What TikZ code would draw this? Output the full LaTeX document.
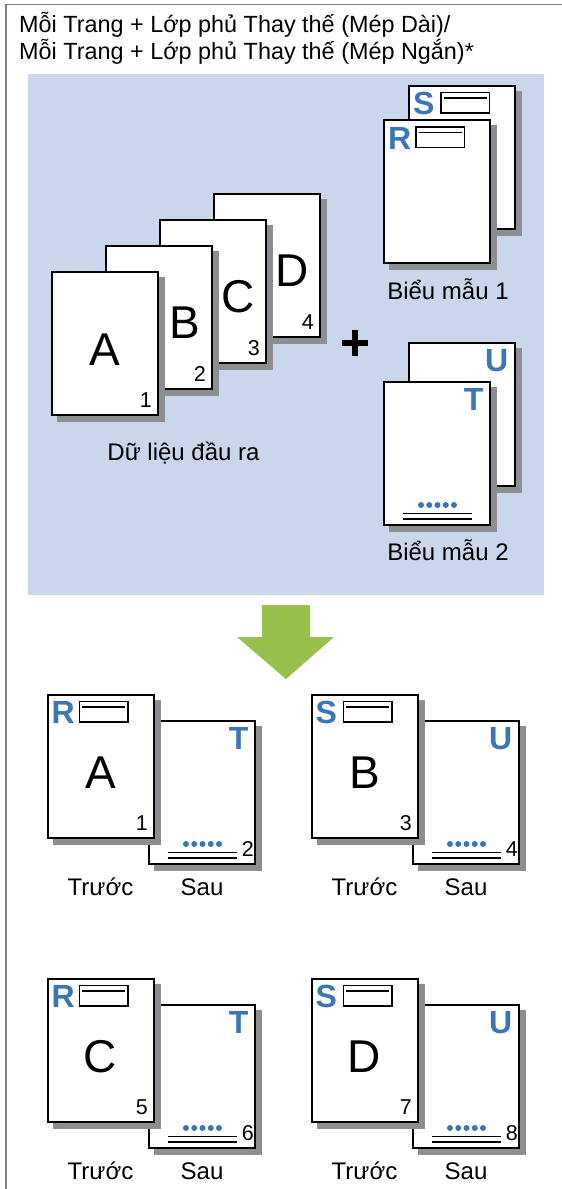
\documentclass[tikz,border=0pt]{standalone}
\usepackage{fontspec}
\setmainfont{Liberation Sans}
\usetikzlibrary{calc}
\definecolor{panelblue}{RGB}{201,214,236}
\definecolor{shadowgray}{RGB}{140,142,145}
\definecolor{arrowgreen}{RGB}{151,192,76}
\definecolor{letterblue}{RGB}{58,118,182}
\definecolor{framegray}{RGB}{130,130,130}
\tikzset{
  pagebox/.style={draw=black, fill=white, line width=2pt, minimum width=106pt, minimum height=143pt, inner sep=0pt, outer sep=0pt},
  bigletter/.style={font=\fontsize{46}{46}\selectfont, inner sep=0pt, anchor=base},
  pagenum/.style={font=\fontsize{21.5}{21.5}\selectfont, inner sep=0pt, anchor=base east},
  blueletter/.style={font=\fontsize{32}{32}\selectfont\bfseries, text=letterblue, inner sep=0pt},
  lbl/.style={font=\fontsize{24}{24}\selectfont, inner sep=0pt, anchor=base},
  titletext/.style={font=\fontsize{23.4}{23.4}\selectfont, inner sep=0pt, anchor=base west},
  formbox/.style={draw=black, line width=1.5pt},
}
\newcommand\pg[3]{%
  \fill[shadowgray] ({#2-48},{#3-66.5}) rectangle ({#2+60},{#3+78.5});
  \node[pagebox] (#1) at (#2,#3) {};}
\newcommand\formTop[2]{%
  \node[blueletter, anchor=base west] (#1L) at ($(#1.center)+(-49,-42.5)$) {#2};
  \draw[formbox] ($(#1.center)+(-21.25,-64.75)$) rectangle ($(#1.center)+(27.25,-44.25)$);
  \draw[line width=1.5pt] ($(#1.center)+(-18.5,-59)$) -- ($(#1.center)+(24.5,-59)$);}
\newcommand\formBottom[2]{%
  \node[blueletter, anchor=base east] (#1L) at ($(#1.center)+(46.5,-43)$) {#2};
  \foreach \i in {0,...,4} \fill[letterblue] ($(#1.center)+({-16+8.25*\i},52)$) circle (3pt);
  \draw[line width=1.8pt] ($(#1.center)+(-34,60.5)$) -- ($(#1.center)+(35,60.5)$);
  \draw[line width=1.2pt] ($(#1.center)+(-34,66)$) -- ($(#1.center)+(35,66)$);}
\newcommand\outPair[7]{% dx, dy, front letter, front num, back letter, back num, top letter
  \pg{b#3}{202+#1}{792+#2}
  \formBottom{b#3}{#5}
  \node[pagenum, anchor=base east] at ($(b#3.center)+(52,64.5)$) {#6};
  \pg{f#3}{100.5+#1}{766+#2}
  \formTop{f#3}{#7}
  \node[bigletter] at ($(f#3.center)+(0,22)$) {#3};
  \node[pagenum] at ($(f#3.center)+(47.5,64)$) {#4};
  \node[lbl] at (100.5+#1,895+#2) {Trước};
  \node[lbl] at (202+#1,895+#2) {Sau};}
\begin{document}
\begin{tikzpicture}[x=1pt,y=-1pt]
\useasboundingbox (0,0) rectangle (562,1189);
\fill[white] (0,0) rectangle (562,1189);
\draw[framegray, line width=1.5pt] (562,4.5) -- (6,4.5) -- (6,1189);
\node[titletext] (t1) at (19,32) {Mỗi Trang + Lớp phủ Thay thế (Mép Dài)/};
\node[titletext] (t2) at (19,59) {Mỗi Trang + Lớp phủ Thay thế (Mép Ngắn)*};
\fill[panelblue] (28,74) rectangle (544,595);
% input pages
\pg{pD}{266.5}{265.5}
\node[bigletter] at ($(pD.center)+(26,21)$) {D};
\node[pagenum] at ($(pD.center)+(47.5,63.5)$) {4};
\pg{pC}{212.5}{291.5}
\node[bigletter] at ($(pC.center)+(26,21)$) {C};
\node[pagenum] at ($(pC.center)+(47.5,63.5)$) {3};
\pg{pB}{158.5}{317.5}
\node[bigletter] at ($(pB.center)+(26,21)$) {B};
\node[pagenum] at ($(pB.center)+(47.5,63.5)$) {2};
\pg{pA}{104.5}{343.5}
\node[bigletter] at ($(pA.center)+(0,21.5)$) {A};
\node[pagenum] at ($(pA.center)+(47.5,63.5)$) {1};
\node[lbl] (lin) at (183.5,460) {Dữ liệu đầu ra};
% plus
\draw[line width=5.5pt] (342,343) -- (368,343);
\draw[line width=5.5pt] (355,330) -- (355,356);
% form 1
\pg{fS}{462}{157}
\formTop{fS}{S}
\pg{fR}{437}{191.5}
\formTop{fR}{R}
\node[lbl] (lf1) at (448,299) {Biểu mẫu 1};
% form 2
\pg{fU}{462}{414}
\formBottom{fU}{U}
\pg{fT}{437}{453}
\formBottom{fT}{T}
\node[lbl] (lf2) at (448,560) {Biểu mẫu 2};
% arrow
\fill[arrowgreen] (262,605) -- (310,605) -- (310,637) -- (334,637) -- (286,679) -- (237,637) -- (262,637) -- cycle;
% outputs
\outPair{0}{0}{A}{1}{T}{2}{R}
\outPair{264}{0}{B}{3}{U}{4}{S}
\outPair{0}{284}{C}{5}{T}{6}{R}
\outPair{264}{284}{D}{7}{U}{8}{S}
\end{tikzpicture}
\end{document}
